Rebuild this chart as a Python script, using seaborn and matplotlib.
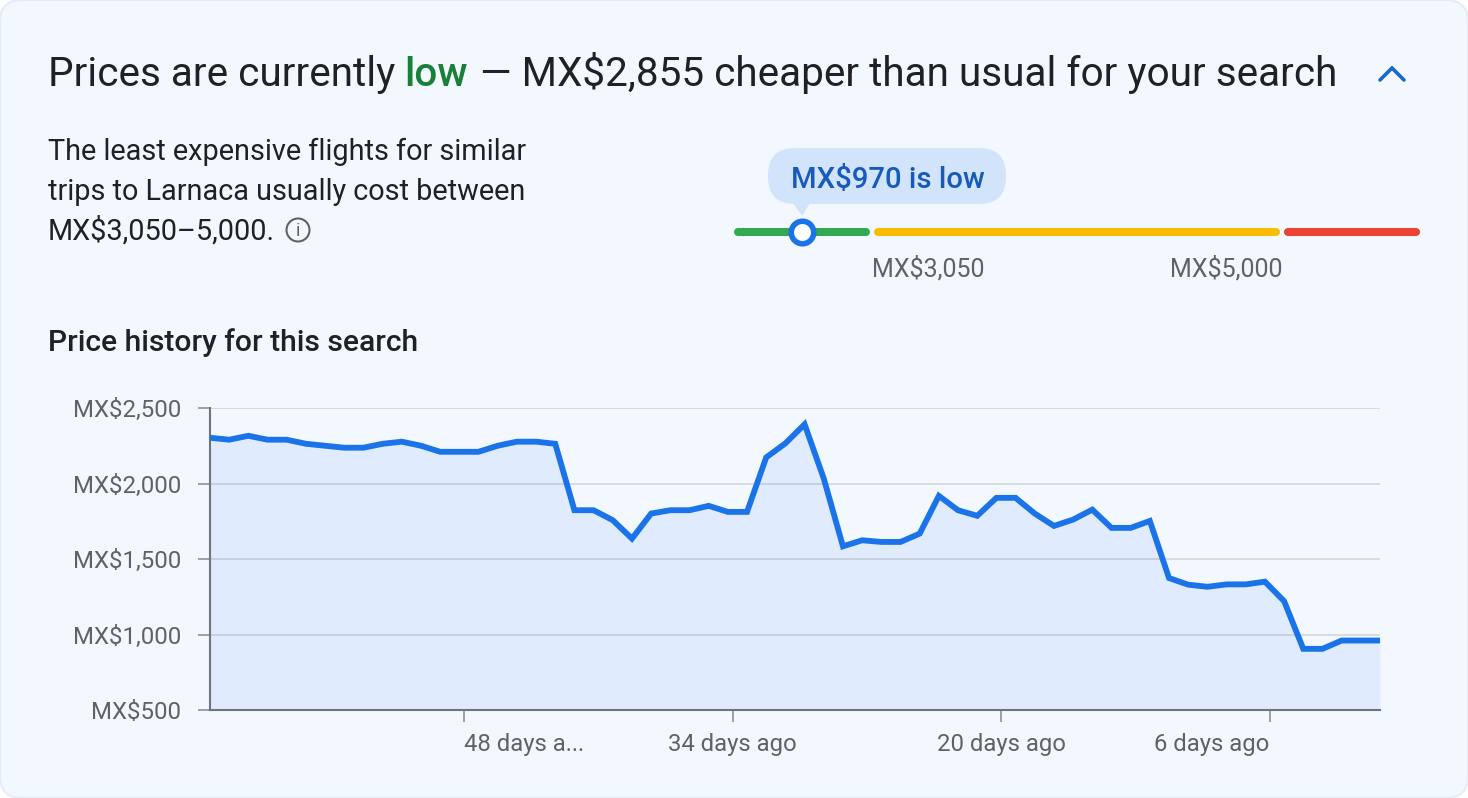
import numpy as np
import pandas as pd
import matplotlib
matplotlib.use("Agg")
import matplotlib.pyplot as plt
from matplotlib.patches import FancyBboxPatch, Polygon, Circle
import seaborn as sns

# prices, one per day, oldest first
prices = [2303, 2290, 2316, 2290, 2290, 2263, 2250, 2237, 2237, 2263, 2277, 2250,
          2210, 2210, 2210, 2250, 2277, 2277, 2263, 1823, 1823, 1757, 1635, 1801,
          1823, 1823, 1852, 1812, 1812, 2173, 2266, 2392, 2033, 1584, 1624, 1613,
          1613, 1668, 1918, 1823, 1786, 1905, 1905, 1801, 1719, 1761, 1827, 1706,
          1706, 1752, 1374, 1330, 1316, 1332, 1332, 1350, 1221, 905, 905, 960, 960, 960]
first_day = 61.25  # the daily samples sit a quarter day off the tick positions

y_ticks = [500, 1000, 1500, 2000, 2500]
y_labels = ["MX$500", "MX$1,000", "MX$1,500", "MX$2,000", "MX$2,500"]
x_ticks = [48, 34, 20, 6]
x_labels = ["48 days a...", "34 days ago", "20 days ago", "6 days ago"]
x_label_align = ["left", "center", "center", "right"]

# price bar: the scale is not linear, so the stops are pinned to positions on the bar
bar_stops = [0, 970, 3050, 5000, 7000]
bar_positions = [0, 0.0944, 0.1976, 0.8024, 1]
current_price = 970
# segments stop a little short of the band limits to leave the gaps
bar_segments = [(0, 2872, "#34A853"), (3078, 4972, "#FBBC04"), (5090, 7000, "#EA4335")]

BG = "#F3F8FF"
DARK = "#202124"
GREY = "#5F6368"
BLUE = "#1A73E8"
W, H = 1468, 798

sns.set_theme(style="white")
plt.rcParams["font.family"] = ["Roboto", "DejaVu Sans"]

fig = plt.figure(figsize=(W / 100, H / 100), dpi=100, facecolor="white")


def px_axes(left, top, right, bottom):
    return fig.add_axes([left / W, 1 - bottom / H, (right - left) / W, (bottom - top) / H])


# full card layer, in pixels, for the text around the charts
card = px_axes(0, 0, W, H)
card.set_xlim(0, W)
card.set_ylim(H, 0)
card.axis("off")
card.add_patch(FancyBboxPatch((0, 0), W, H, boxstyle="round,pad=0,rounding_size=22",
                              fc=BG, ec="#E6ECF7", lw=1.5))

title_size = 29.15
card.text(48, 86, "Prices are currently", fontsize=title_size, color=DARK, va="baseline")
card.text(404, 86, "low", fontsize=title_size, color="#188038", weight="medium", va="baseline")
card.text(480, 86, "— MX$2,855 cheaper than usual for your search", fontsize=title_size,
          color=DARK, va="baseline")
card.plot([1380, 1392, 1404], [80, 68, 80], color="#1967D2", lw=2.6, solid_joinstyle="miter")

for y, line in zip([160, 200, 240], ["The least expensive flights for similar",
                                     "trips to Larnaca usually cost between",
                                     "MX$3,050–5,000."]):
    card.text(48, y, line, fontsize=20.75, color=DARK, va="baseline")
card.add_patch(Circle((298, 230), 11.5, fc="none", ec=GREY, lw=1.5))
card.text(298, 230.5, "i", fontsize=13, color=GREY, ha="center", va="center")

card.text(48, 351, "Price history for this search", fontsize=21.6, color=DARK,
          weight="medium", va="baseline")

# tooltip above the price bar
card.add_patch(FancyBboxPatch((768, 148), 238, 56, boxstyle="round,pad=0,rounding_size=27",
                              fc="#D2E3FC", ec="none"))
card.add_patch(Polygon([(793, 203), (810, 203), (802, 216)], fc="#D2E3FC", ec="none"))
card.text(887.5, 188, "MX$970 is low", fontsize=21.1, color="#185ABC", weight="medium",
          ha="center", va="baseline")
card.text(872, 276, "MX$3,050", fontsize=18, color=GREY, ha="left", va="baseline")
card.text(1282, 276, "MX$5,000", fontsize=18, color=GREY, ha="right", va="baseline")

# price bar
bar = px_axes(738, 222, 1416, 242)
bar.patch.set_alpha(0)
bar.set_xscale("function", functions=(lambda v: np.interp(v, bar_stops, bar_positions),
                                      lambda p: np.interp(p, bar_positions, bar_stops)))
bar.set_xlim(bar_stops[0], bar_stops[-1])
bar.set_ylim(-1, 1)
bar.axis("off")
for start, end, color in bar_segments:
    bar.plot([start, end], [0, 0], color=color, lw=5.8, solid_capstyle="round", clip_on=False)
bar.plot([current_price], [0], "o", ms=16.2, mfc="white", mec=BLUE, mew=4, clip_on=False, zorder=5)

# price history
ax = px_axes(210, 408, 1380, 710)
ax.patch.set_alpha(0)
history = pd.DataFrame({"days_ago": first_day - np.arange(len(prices)), "price": prices})
ax.set_axisbelow("line")
ax.grid(axis="y", color="#3C4043", alpha=0.15, lw=1.44)
ax.grid(axis="x", visible=False)
ax.fill_between(history["days_ago"], 500, history["price"], color="#D2E3FC", alpha=0.55, lw=0, zorder=1)
sns.lineplot(data=history, x="days_ago", y="price", ax=ax, color=BLUE, lw=4.2,
             solid_joinstyle="miter", solid_capstyle="butt", zorder=3)
ax.set_xlim(history["days_ago"].iloc[0], history["days_ago"].iloc[-1])
ax.set_ylim(y_ticks[0], y_ticks[-1])
ax.set_xlabel("")
ax.set_ylabel("")
ax.set_yticks(y_ticks, y_labels)
ax.set_xticks(x_ticks, x_labels)
ax.tick_params(axis="both", which="major", left=True, bottom=True, length=8.6, width=1.4,
               color="#9AA0A6", labelcolor=GREY)
ax.tick_params(axis="y", pad=12, labelsize=17.3)
ax.tick_params(axis="x", pad=8, labelsize=17.2)
for label, align in zip(ax.get_xticklabels(), x_label_align):
    label.set_ha(align)
for side in ["top", "right"]:
    ax.spines[side].set_visible(False)
for side in ["left", "bottom"]:
    ax.spines[side].set_color("#70757A")
    ax.spines[side].set_linewidth(1.5)

fig.savefig("out.png", dpi=100, facecolor=fig.get_facecolor())
